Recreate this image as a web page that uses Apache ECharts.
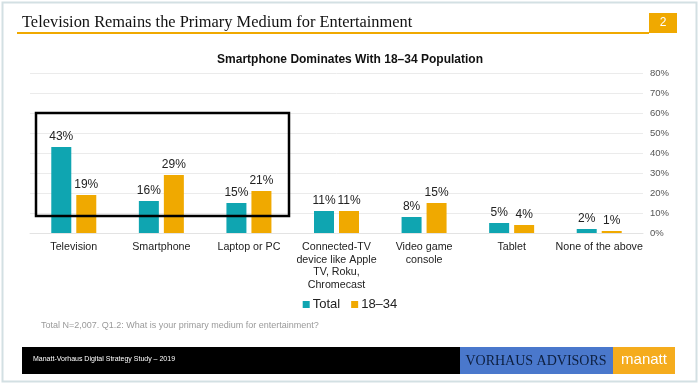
<!DOCTYPE html>
<html><head><meta charset="utf-8">
<script src="https://cdn.jsdelivr.net/npm/echarts@6/dist/echarts.min.js"></script>
<style>
html,body{margin:0;padding:0;background:#fff;}
#c{width:700px;height:385px;}
</style></head>
<body><div id="c"></div>
<script>
const categories = ['Television','Smartphone','Laptop or PC','Connected-TV\ndevice like Apple\nTV, Roku,\nChromecast','Video game\nconsole','Tablet','None of the above'];
const totalValues = [43,16,15,11,8,5,2];
const youngValues = [19,29,21,11,15,4,1];
const seriesNames = ['Total','18–34'];
const pageTitle = 'Television Remains the Primary Medium for Entertainment';
const chartTitle = 'Smartphone Dominates With 18–34 Population';
const footnote = 'Total N=2,007. Q1.2: What is your primary medium for entertainment?';
const footerText = 'Manatt-Vorhaus Digital Strategy Study – 2019';

const chart = echarts.init(document.getElementById('c'));
const sans = 'Liberation Sans, Arial, sans-serif';
const lbl = {show:true, position:'top', formatter:'{c}%', color:'#222', fontSize:12, fontFamily:sans, distance:4};
chart.setOption({
  animation:false,
  textStyle:{fontFamily:sans},
  title:{text:chartTitle, left:'center', top:49, textStyle:{fontSize:12, fontWeight:'bold', color:'#111', fontFamily:sans}},
  legend:{top:293, left:'center', itemWidth:7, itemHeight:7, itemGap:11, icon:'rect',
    textStyle:{fontSize:13, color:'#222', fontFamily:sans, padding:[0,0,0,-2]}, data:seriesNames},
  grid:{left:30, right:57, top:73, bottom:152},
  xAxis:{type:'category', data:categories,
    axisLine:{lineStyle:{color:'#e3e3e3'}}, axisTick:{show:false},
    axisLabel:{color:'#222', fontSize:10.7, lineHeight:12.5, interval:0, margin:8, fontFamily:sans}},
  yAxis:{type:'value', position:'right', min:0, max:80, interval:10,
    axisLabel:{formatter:'{value}%', color:'#555', fontSize:9.5, margin:7, fontFamily:sans},
    splitLine:{lineStyle:{color:'#ebebeb'}}, axisLine:{show:false}, axisTick:{show:false}},
  series:[
    {name:seriesNames[0], type:'bar', data:totalValues, barWidth:20, barGap:'25%', itemStyle:{color:'#0fa5b1'}, label:lbl},
    {name:seriesNames[1], type:'bar', data:youngValues, barWidth:20, itemStyle:{color:'#f0a900'}, label:lbl}
  ],
  graphic:[
    {type:'rect', shape:{x:2.5,y:2.5,width:694,height:379}, style:{fill:'none', stroke:'#d3e0e3', lineWidth:2}, z:0},
    {type:'text', left:22, top:15, style:{text:pageTitle, font:'16.4px "Liberation Serif", Georgia, serif', fill:'#111'}},
    {type:'rect', shape:{x:17,y:32,width:632,height:2}, style:{fill:'#f0a900'}},
    {type:'rect', shape:{x:649,y:13,width:28,height:20}, style:{fill:'#f0a900'}},
    {type:'text', x:663, y:23, style:{text:'2', font:'12px '+sans, fill:'#fff', textAlign:'center', textVerticalAlign:'middle'}},
    {type:'rect', shape:{x:36,y:113,width:253,height:103}, style:{fill:'none', stroke:'#000', lineWidth:2.5}, z:100},
    {type:'text', left:41, top:321, style:{text:footnote, font:'9px '+sans, fill:'#9a9a9a'}},
    {type:'rect', shape:{x:22,y:347,width:438,height:27}, style:{fill:'#000'}},
    {type:'rect', shape:{x:460,y:347,width:153,height:27}, style:{fill:'#4a78cc'}},
    {type:'rect', shape:{x:613,y:347,width:62,height:27}, style:{fill:'#f5ac1d'}},
    {type:'text', left:33, top:356, style:{text:footerText, font:'7px '+sans, fill:'#fff'}},
    {type:'text', x:536, y:361, style:{text:'VORHAUS ADVISORS', font:'14px "Liberation Serif", serif', fill:'#0d1f3f', textAlign:'center', textVerticalAlign:'middle'}},
    {type:'text', x:644, y:360, style:{text:'manatt', font:'15px '+sans, fill:'#fff', textAlign:'center', textVerticalAlign:'middle'}}
  ]
});
</script></body></html>
